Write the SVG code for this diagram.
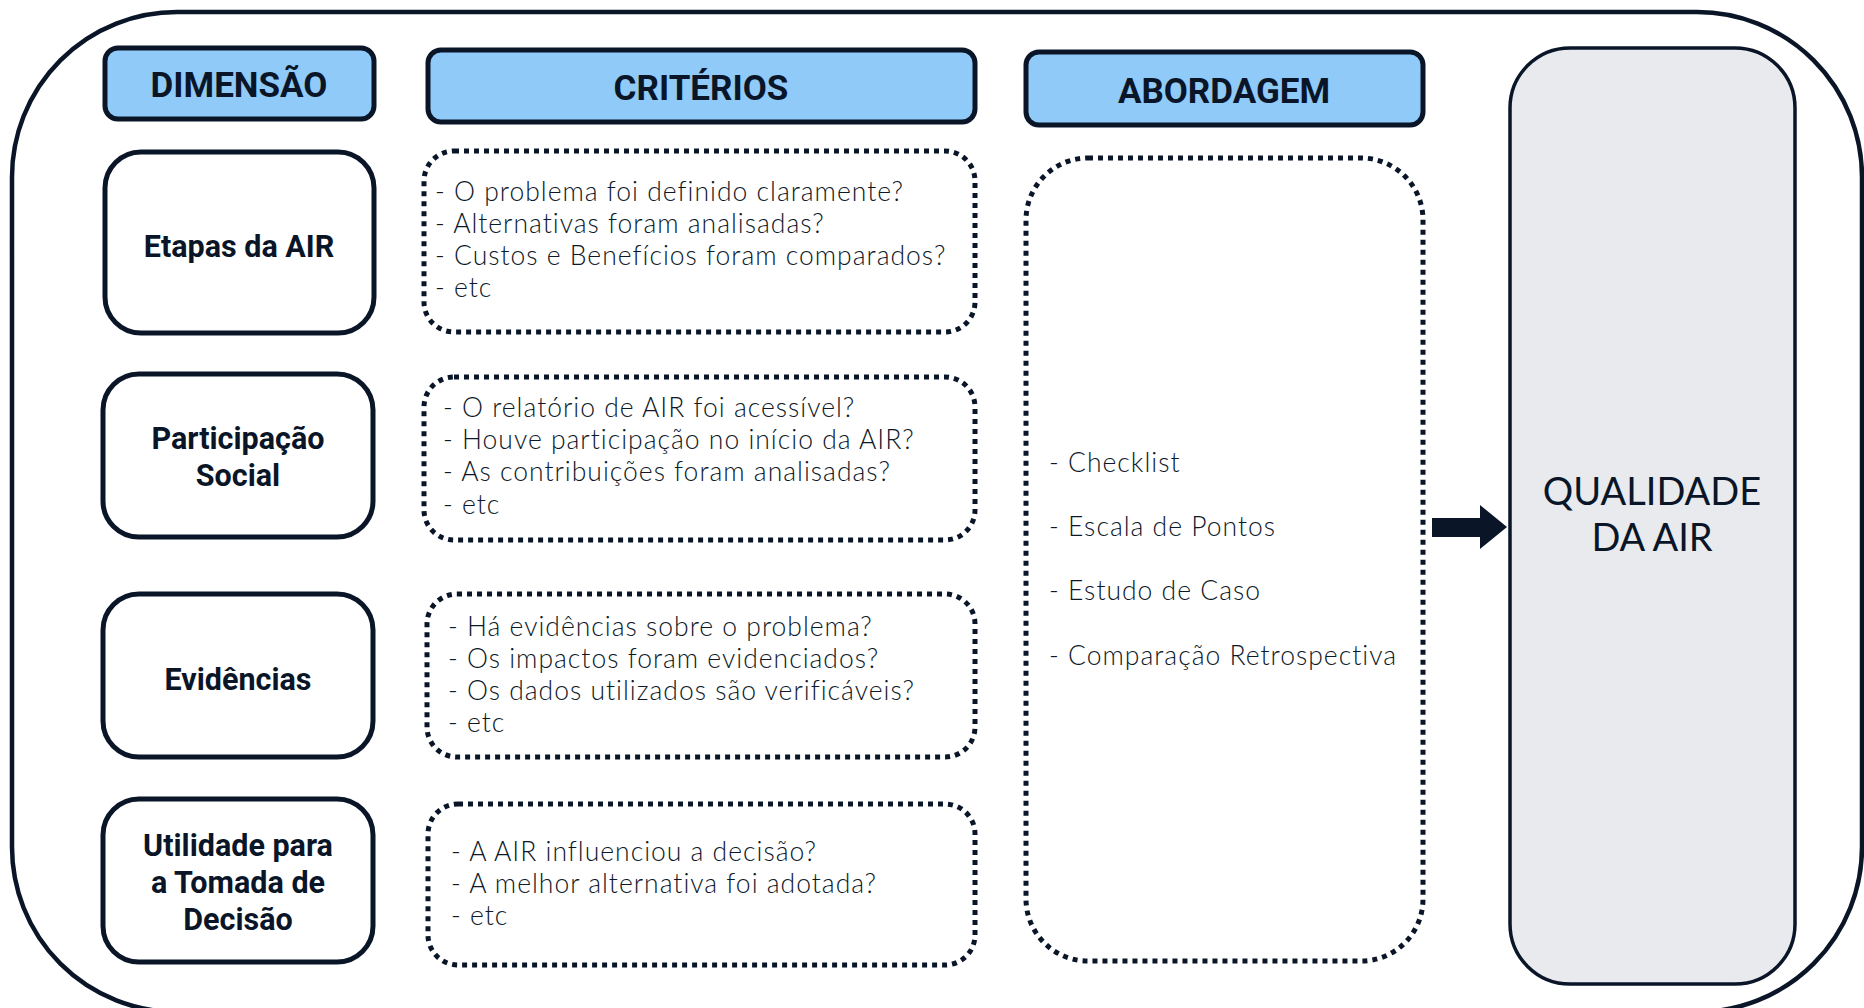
<svg xmlns="http://www.w3.org/2000/svg" width="1864" height="1008" viewBox="0 0 1864 1008">
<style>
.hdr{fill:#90caf9;stroke:#0a1628;stroke-width:5}
.node{fill:#ffffff;stroke:#0a1628;stroke-width:5}
.dot{fill:none;stroke:#0a1628;stroke-width:5;stroke-dasharray:5 5}
.ht{font-family:Roboto,"Liberation Sans",sans-serif;font-weight:700;font-size:35px;fill:#0a1628;text-anchor:middle}
.nt{font-family:Roboto,"Liberation Sans",sans-serif;font-weight:700;font-size:30.5px;fill:#0a1628;text-anchor:middle}
.lt{font-family:Lato,"Noto Sans",sans-serif;font-weight:300;font-size:26.5px;letter-spacing:1px;fill:#0d1828}
.qt{font-family:Lato,"Noto Sans",sans-serif;font-weight:400;font-size:38px;fill:#0a1628;text-anchor:middle}
</style>
<rect width="1864" height="1008" fill="#ffffff"/>
<rect id="frame" x="12" y="12" width="1850" height="1000" rx="165" ry="165" fill="none" stroke="#0a1628" stroke-width="4.5"/>

<g id="h-dimensao"><rect class="hdr" x="105" y="48" width="269" height="71" rx="13"/><text class="ht" x="239" y="97">DIMENSÃO</text></g>
<g id="h-criterios"><rect class="hdr" x="428" y="50" width="547" height="72" rx="13"/><text class="ht" x="701" y="100">CRITÉRIOS</text></g>
<g id="h-abordagem"><rect class="hdr" x="1026" y="52" width="397" height="73" rx="13"/><text class="ht" x="1224" y="103">ABORDAGEM</text></g>

<g id="n-etapas"><rect class="node" x="105" y="152" width="269" height="181" rx="36"/><text class="nt" x="239" y="257">Etapas da AIR</text></g>
<g id="n-participacao"><rect class="node" x="103" y="374" width="270" height="163" rx="36"/><text class="nt" x="238" y="449">Participação</text><text class="nt" x="238" y="486">Social</text></g>
<g id="n-evidencias"><rect class="node" x="103" y="594" width="270" height="163" rx="36"/><text class="nt" x="238" y="690">Evidências</text></g>
<g id="n-utilidade"><rect class="node" x="103" y="799" width="270" height="163" rx="36"/><text class="nt" x="238" y="856">Utilidade para</text><text class="nt" x="238" y="893">a Tomada de</text><text class="nt" x="238" y="930">Decisão</text></g>

<g id="c-etapas"><rect class="dot" x="424" y="151" width="551" height="181" rx="30"/>
<text class="lt" x="435" y="201">- O problema foi definido claramente?</text>
<text class="lt" x="435" y="233">- Alternativas foram analisadas?</text>
<text class="lt" x="435" y="265">- Custos e Benefícios foram comparados?</text>
<text class="lt" x="435" y="297">- etc</text></g>
<g id="c-participacao"><rect class="dot" x="424" y="377" width="551" height="163" rx="30"/>
<text class="lt" x="443" y="417">- O relatório de AIR foi acessível?</text>
<text class="lt" x="443" y="449">- Houve participação no início da AIR?</text>
<text class="lt" x="443" y="481">- As contribuições foram analisadas?</text>
<text class="lt" x="443" y="514">- etc</text></g>
<g id="c-evidencias"><rect class="dot" x="427" y="594" width="548" height="163" rx="30"/>
<text class="lt" x="448" y="636">- Há evidências sobre o problema?</text>
<text class="lt" x="448" y="668">- Os impactos foram evidenciados?</text>
<text class="lt" x="448" y="700">- Os dados utilizados são verificáveis?</text>
<text class="lt" x="448" y="732">- etc</text></g>
<g id="c-utilidade"><rect class="dot" x="428" y="804" width="547" height="161" rx="30"/>
<text class="lt" x="451" y="861">- A AIR influenciou a decisão?</text>
<text class="lt" x="451" y="893">- A melhor alternativa foi adotada?</text>
<text class="lt" x="451" y="925">- etc</text></g>

<g id="abordagem"><rect class="dot" x="1026" y="158" width="397" height="803" rx="62"/>
<text class="lt" x="1049" y="472">- Checklist</text>
<text class="lt" x="1049" y="536">- Escala de Pontos</text>
<text class="lt" x="1049" y="600">- Estudo de Caso</text>
<text class="lt" x="1049" y="665">- Comparação Retrospectiva</text></g>

<g id="qualidade"><rect x="1510" y="48" width="285" height="936" rx="60" fill="#e8eaed" stroke="#0a1628" stroke-width="3.5"/>
<text class="qt" x="1652" y="505">QUALIDADE</text><text class="qt" x="1652" y="551">DA AIR</text></g>

<g id="connectors"><polygon points="1432,518 1480,518 1480,505 1507,527 1480,549 1480,537 1432,537" fill="#0a1628"/></g>
</svg>
